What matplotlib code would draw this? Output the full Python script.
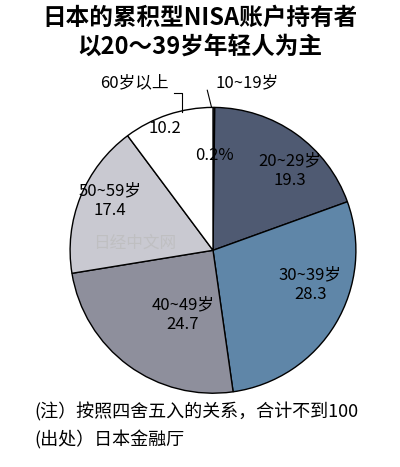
import matplotlib.pyplot as plt

plt.rcParams['font.family'] = ['Noto Sans CJK SC', 'DejaVu Sans']

age_groups = ['10~19岁', '20~29岁', '30~39岁', '40~49岁', '50~59岁', '60岁以上']
shares = [0.2, 19.3, 28.3, 24.7, 17.4, 10.2]
colors = ['#9aa0b0', '#4f5a72', '#5f86a8', '#8e8f9c', '#c9c9d1', '#ffffff']

fig = plt.figure(figsize=(4, 4.67), dpi=100)
fig.text(0.5, 0.962, '日本的累积型NISA账户持有者', ha='center', va='center',
         fontsize=17, fontweight='bold')
fig.text(0.5, 0.9, '以20～39岁年轻人为主', ha='center', va='center',
         fontsize=17, fontweight='bold')

ax = fig.add_axes([0.175, 0.158, 0.715, 0.612])
ax.pie(shares, colors=colors, startangle=90, counterclock=False,
       wedgeprops=dict(edgecolor='black', linewidth=1.0))
ax.set_xlim(-1, 1)
ax.set_ylim(-1, 1)
ax.set_aspect('equal')

fs = 12
# inside labels
ax.text(0.54, 0.56, f'{age_groups[1]}\n{shares[1]}', ha='center', va='center', fontsize=fs, linespacing=1.2)
ax.text(0.68, -0.24, f'{age_groups[2]}\n{shares[2]}', ha='center', va='center', fontsize=fs, linespacing=1.2)
ax.text(-0.21, -0.45, f'{age_groups[3]}\n{shares[3]}', ha='center', va='center', fontsize=fs, linespacing=1.2)
ax.text(-0.72, 0.35, f'{age_groups[4]}\n{shares[4]}', ha='center', va='center', fontsize=fs, linespacing=1.2)
ax.text(-0.34, 0.85, f'{shares[5]}', ha='center', va='center', fontsize=fs)
ax.text(0.01, 0.66, f'{shares[0]}%', ha='center', va='center', fontsize=fs)
# outside labels with leader lines
ax.text(-0.55, 1.17, age_groups[5], ha='center', va='center', fontsize=fs, clip_on=False)
ax.plot([-0.27, -0.22, -0.22], [1.1, 1.1, 0.97], color='black', lw=0.8, clip_on=False)
ax.text(0.24, 1.17, age_groups[0], ha='center', va='center', fontsize=fs, clip_on=False)
ax.plot([-0.04, -0.01], [1.12, 1.0], color='black', lw=0.8, clip_on=False)

# watermark
ax.text(-0.55, 0.05, '日经中文网', ha='center', va='center', fontsize=12,
        color='#bbbbbb', alpha=0.7)

fig.text(0.085, 0.118, '(注）按照四舍五入的关系，合计不到100', ha='left', va='center', fontsize=13)
fig.text(0.085, 0.058, '(出处）日本金融厅', ha='left', va='center', fontsize=13)

fig.savefig('out.png', dpi=100)
